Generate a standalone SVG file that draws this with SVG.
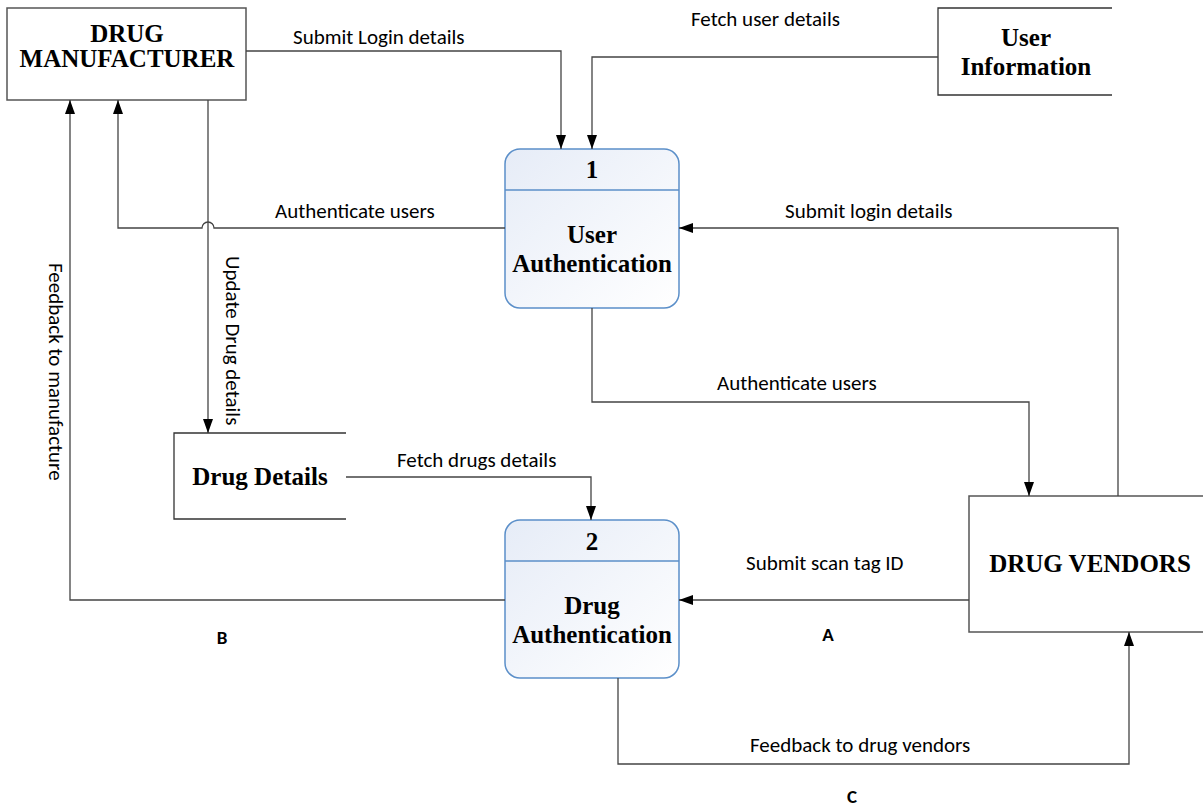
<svg xmlns="http://www.w3.org/2000/svg" width="1203" height="809" viewBox="0 0 1203 809">
  <defs>
    <marker id="arrow" viewBox="0 0 14 10" refX="14" refY="5" markerWidth="14" markerHeight="10" markerUnits="userSpaceOnUse" orient="auto">
      <path d="M0,0 L14,5 L0,10 Z" fill="#000"/>
    </marker>
    <linearGradient id="procFill" x1="0" y1="0" x2="1" y2="1">
      <stop offset="0" stop-color="#e6ecf7"/>
      <stop offset="1" stop-color="#ffffff"/>
    </linearGradient>
    <style>
      .entity { fill: #fff; stroke: #555; stroke-width: 1.5; }
      .store { fill: none; stroke: #333; stroke-width: 1.3; }
      .proc { fill: url(#procFill); stroke: #5b8fc9; stroke-width: 1.5; }
      .divider { stroke: #5b8fc9; stroke-width: 1.5; }
      .title { font-family: "Liberation Serif", "Times New Roman", serif; font-weight: bold; font-size: 25px; fill: #000; text-anchor: middle; }
      .flow { fill: none; stroke: #444; stroke-width: 1.3; }
      .lbl { font-family: "Carlito", "Liberation Sans", Arial, sans-serif; font-size: 21px; fill: #000; }
      .mark { font-family: "Carlito", "Liberation Sans", Arial, sans-serif; font-weight: bold; font-size: 19px; fill: #000; text-anchor: middle; }
    </style>
  </defs>

  <!-- external entities -->
  <g id="drug-manufacturer">
    <rect class="entity" x="7" y="8" width="239" height="92"/>
    <text class="title" x="127" y="42">DRUG</text>
    <text class="title" x="127" y="67">MANUFACTURER</text>
  </g>

  <g id="drug-vendors">
    <rect class="entity" x="969" y="496" width="250" height="136"/>
    <text class="title" x="1090" y="572">DRUG VENDORS</text>
  </g>

  <!-- data stores (open on the right) -->
  <g id="user-information">
    <path class="store" d="M1112,8 H938 V95 H1112"/>
    <text class="title" x="1026" y="46">User</text>
    <text class="title" x="1026" y="75">Information</text>
  </g>

  <g id="drug-details">
    <path class="store" d="M346,433 H174 V519 H346"/>
    <text class="title" x="260" y="485">Drug Details</text>
  </g>

  <!-- processes -->
  <g id="process-1">
    <rect class="proc" x="505" y="149" width="174" height="159" rx="15" ry="15"/>
    <line class="divider" x1="505" y1="190" x2="679" y2="190"/>
    <text class="title" x="592" y="178">1</text>
    <text class="title" x="592" y="243">User</text>
    <text class="title" x="592" y="272">Authentication</text>
  </g>

  <g id="process-2">
    <rect class="proc" x="505" y="520" width="174" height="158" rx="15" ry="15"/>
    <line class="divider" x1="505" y1="561" x2="679" y2="561"/>
    <text class="title" x="592" y="550">2</text>
    <text class="title" x="592" y="614">Drug</text>
    <text class="title" x="592" y="643">Authentication</text>
  </g>

  <!-- data flows -->
  <g id="connectors">
    <path class="flow" d="M246,51 H561 V149" marker-end="url(#arrow)"/>
    <path class="flow" d="M938,57 H592 V149" marker-end="url(#arrow)"/>
    <path class="flow" d="M505,228 H214 A6,6 0 0 0 202,228 H118 V100" marker-end="url(#arrow)"/>
    <path class="flow" d="M208,100 V433" marker-end="url(#arrow)"/>
    <path class="flow" d="M505,600 H70 V100" marker-end="url(#arrow)"/>
    <path class="flow" d="M1118,496 V228 H679" marker-end="url(#arrow)"/>
    <path class="flow" d="M592,308 V402 H1029 V496" marker-end="url(#arrow)"/>
    <path class="flow" d="M346,477 H591 V520" marker-end="url(#arrow)"/>
    <path class="flow" d="M969,600 H679" marker-end="url(#arrow)"/>
    <path class="flow" d="M618,678 V764 H1129 V632" marker-end="url(#arrow)"/>

    <text class="lbl" x="293" y="44">Submit Login details</text>
    <text class="lbl" x="691" y="26">Fetch user details</text>
    <text class="lbl" x="275" y="218">Authenticate users</text>
    <text class="lbl" x="785" y="218">Submit login details</text>
    <text class="lbl" x="717" y="390">Authenticate users</text>
    <text class="lbl" x="397" y="467">Fetch drugs details</text>
    <text class="lbl" x="746" y="570">Submit scan tag ID</text>
    <text class="lbl" x="750" y="752">Feedback to drug vendors</text>
    <text class="lbl" transform="translate(226,256) rotate(90)">Update Drug details</text>
    <text class="lbl" transform="translate(49,263) rotate(90)">Feedback to manufacture</text>
    <text class="mark" x="222" y="644">B</text>
    <text class="mark" x="828" y="641">A</text>
    <text class="mark" x="852" y="803">C</text>
  </g>
</svg>
